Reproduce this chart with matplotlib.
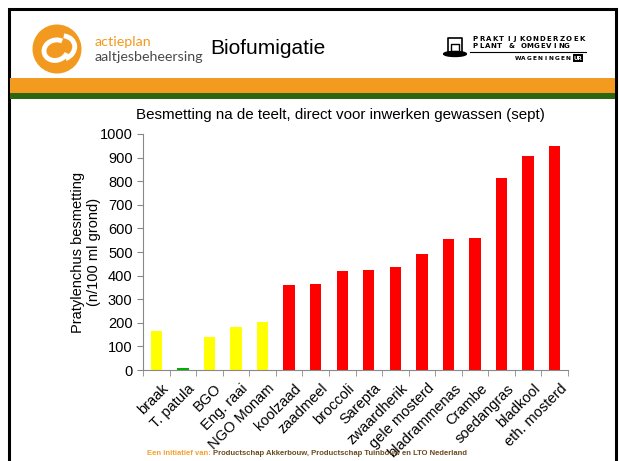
import matplotlib
matplotlib.use('Agg')
import matplotlib.pyplot as plt
from matplotlib.patches import Rectangle, Circle, Arc, Ellipse
from matplotlib.transforms import ScaledTranslation
import numpy as np

plt.rcParams['font.family'] = ['Liberation Sans', 'DejaVu Sans']

# Data
gewassen = ['braak', 'T. patula', 'BGO', 'Eng. raai', 'NGO Monam', 'koolzaad',
            'zaadmeel', 'broccoli', 'Sarepta', 'zwaardherik', 'gele mosterd',
            'bladrammenas', 'Crambe', 'soedangras', 'bladkool', 'eth. mosterd']
besmetting = [165, 8, 140, 182, 204, 359, 364, 418, 422, 438, 491, 557, 560, 812, 907, 948]
kleuren = ['#FFFF00', '#00B000', '#FFFF00', '#FFFF00', '#FFFF00'] + ['#FF0000'] * 11
y_ticks = [0, 100, 200, 300, 400, 500, 600, 700, 800, 900, 1000]

W, H = 619, 461
fig = plt.figure(figsize=(W / 100, H / 100), dpi=100, facecolor='white')


def fx(px):
    return px / W


def fy(py):
    return 1 - py / H


def spaced(text, x0, x1, y, size):
    # letters spread evenly between x0 and x1 (pixel coords)
    step = (x1 - x0) / (len(text) - 1)
    for i, ch in enumerate(text):
        fig.text(fx(x0 + i * step), fy(y), ch, fontsize=size, fontweight='bold',
                 va='center', ha='center', family=['DejaVu Sans'])


# Slide frame and header bands
fig.patches.append(Rectangle((fx(9), fy(470)), fx(607), 1, transform=fig.transFigure,
                             fill=False, edgecolor='black', lw=2.2))
fig.patches.append(Rectangle((fx(10), fy(93)), fx(605), 15 / H, transform=fig.transFigure,
                             facecolor='#F39B1F', edgecolor='none'))
fig.patches.append(Rectangle((fx(10), fy(99)), fx(605), 6 / H, transform=fig.transFigure,
                             facecolor='#2D6610', edgecolor='none'))

# Left logo
logo = fig.add_axes([fx(32), fy(74), fx(50), 50 / H])
logo.set_xlim(-1.05, 1.05)
logo.set_ylim(-1.05, 1.05)
logo.set_aspect('equal')
logo.axis('off')
logo.add_patch(Circle((0, 0), 1.0, color='#F29A1F'))
logo.add_patch(Arc((-0.05, -0.05), 1.0, 0.85, angle=15, theta1=40, theta2=330, color='white', lw=3.5))
logo.add_patch(Arc((0.15, 0.05), 1.2, 1.0, angle=15, theta1=-80, theta2=60, color='white', lw=3.5))
fig.text(fx(95), fy(42), 'actieplan', color='#F29A1F', fontsize=10.3, family=['Lato', 'DejaVu Sans'],
         va='center', ha='left')
fig.text(fx(95), fy(57), 'aaltjesbeheersing', color='#4A4A4A', fontsize=10.3,
         family=['Lato', 'DejaVu Sans'], va='center', ha='left')

# Title of slide
fig.text(fx(268), fy(48), 'Biofumigatie', fontsize=15, va='center', ha='center')

# Right logo
icon = fig.add_axes([fx(443), fy(59), fx(24), 23 / H])
icon.set_xlim(0, 10)
icon.set_ylim(0, 10)
icon.axis('off')
icon.plot([2, 2, 8, 8], [3, 9, 9, 3], color='black', lw=1.2)
icon.plot([3.5, 3.5, 6.5, 6.5], [3, 6.5, 6.5, 3], color='black', lw=1.0)
icon.add_patch(Ellipse((5, 2.2), 9.5, 2.2, color='black'))
spaced('PRAKTIJKONDERZOEK', 475, 582, 39, 5)
spaced('PLANT & OMGEVING', 475, 567, 46, 5)
fig.add_artist(plt.Line2D([fx(470), fx(586)], [fy(52), fy(52)], color='black', lw=0.8))
spaced('WAGENINGEN', 518, 568, 58, 4.2)
fig.text(fx(578), fy(58), 'UR', fontsize=4, fontweight='bold', color='white', va='center',
         ha='center', family=['DejaVu Sans'],
         bbox=dict(boxstyle='square,pad=0.2', facecolor='black', edgecolor='none'))

# Chart
ax = fig.add_axes([fx(143), fy(370), fx(568 - 143), (370 - 134) / H])
x = np.arange(len(gewassen))
ax.bar(x, besmetting, width=0.43, color=kleuren)
ax.set_xlim(-0.5, len(gewassen) - 0.5)
ax.set_ylim(0, 1000)
ax.set_yticks(y_ticks)
ax.set_xticks(x)
ax.set_xticks(np.arange(-0.5, len(gewassen)), minor=True)
ax.tick_params(axis='x', which='major', length=0, pad=6)
ax.tick_params(axis='x', which='minor', length=4, color='#888888', direction='out')
ax.tick_params(axis='y', length=4, color='#888888', labelsize=10.5)
ax.set_xticklabels(gewassen, rotation=45, ha='right', rotation_mode='anchor', fontsize=10.5)
shift = ScaledTranslation(0.05, -0.03, fig.dpi_scale_trans)
for lab in ax.get_xticklabels():
    lab.set_transform(lab.get_transform() + shift)
for s in ['top', 'right']:
    ax.spines[s].set_visible(False)
ax.spines['left'].set_color('#888888')
ax.spines['bottom'].set_color('#888888')
fig.text(fx(86), fy(252), 'Pratylenchus besmetting\n(n/100 ml grond)', fontsize=10.5,
         rotation=90, ha='center', va='center', multialignment='center')
fig.text(fx(340), fy(115), 'Besmetting na de teelt, direct voor inwerken gewassen (sept)',
         fontsize=10.9, ha='center', va='center')

# Footer
t1 = fig.text(fx(147), fy(453), 'Een initiatief van: ', color='#F5A030', fontsize=5.5,
              fontweight='bold', va='center', ha='left')
fig.canvas.draw()
bb = t1.get_window_extent()
fig.text(bb.x1 / W, fy(453), 'Productschap Akkerbouw, Productschap Tuinbouw en LTO Nederland',
         color='#6B4A1E', fontsize=5.5, fontweight='bold', va='center', ha='left')

fig.savefig('out.png', dpi=100, facecolor='white')
